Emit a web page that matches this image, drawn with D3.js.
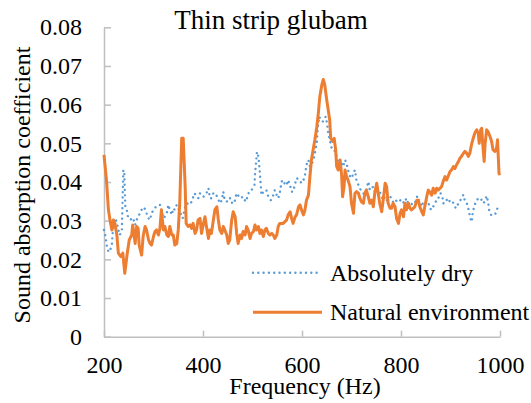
<!DOCTYPE html>
<html><head><meta charset="utf-8">
<script src="https://cdn.jsdelivr.net/npm/d3@7"></script>
<style>body{margin:0;background:#fff} svg text{font-family:'Liberation Serif','Times New Roman',serif}</style>
</head><body><svg id="c" width="531" height="403"></svg>
<script>
const chartTitle = "Thin strip glubam";
const xLabel = "Frequency (Hz)";
const yLabel = "Sound absorption coefficient";
const xTicks = [200, 400, 600, 800, 1000];
const yTicks = [0, 0.01, 0.02, 0.03, 0.04, 0.05, 0.06, 0.07, 0.08];
const seriesNames = ["Absolutely dry", "Natural environment"];

const dryFreq = [200,203,206,209,212,216,218,220,224,227,231,234,236,239,241,243,246,249,252,256,259,263,266,271,276,281,286,290,293,296,300,305,310,313,316,320,326,330,333,337,340,343,347,353,359,363,368,372,377,383,387,391,394,397,401,404,407,411,414,417,421,425,430,434,438,441,444,448,451,456,459,463,468,475,481,486,490,493,498,504,505,507,509,512,514,516,518,522,525,528,532,537,542,545,549,552,555,559,562,566,569,572,576,579,582,589,595,599,603,606,609,613,616,619,623,626,630,632,635,638,642,645,648,651,653,656,660,663,669,671,675,680,683,687,690,693,697,700,704,707,710,714,717,720,724,727,731,734,737,741,744,747,751,754,757,761,764,768,771,774,778,781,785,788,792,795,799,802,806,811,814,818,825,829,833,838,842,845,852,855,858,862,865,870,875,877,880,884,885,889,894,899,904,907,911,916,921,926,929,932,936,938,940,943,945,948,951,956,961,966,969,973,976,978,982,986,990,993,996,998];
const dryVals = [0.0276,0.0259,0.0233,0.0220,0.0220,0.0241,0.0276,0.0302,0.0302,0.0289,0.0263,0.0267,0.0276,0.0431,0.0422,0.0336,0.0328,0.0306,0.0306,0.0302,0.0306,0.0289,0.0302,0.0315,0.0328,0.0335,0.0319,0.0306,0.0302,0.0319,0.0328,0.0336,0.0338,0.0341,0.0328,0.0306,0.0315,0.0341,0.0328,0.0315,0.0332,0.0328,0.0341,0.0324,0.0306,0.0332,0.0345,0.0341,0.0349,0.0371,0.0362,0.0358,0.0371,0.0366,0.0362,0.0366,0.0371,0.0384,0.0358,0.0358,0.0371,0.0371,0.0358,0.0345,0.0353,0.0375,0.0353,0.0349,0.0358,0.0358,0.0345,0.0345,0.0371,0.0358,0.0362,0.0349,0.0362,0.0375,0.0379,0.0392,0.0418,0.0448,0.0478,0.0466,0.0436,0.0405,0.0366,0.0375,0.0375,0.0379,0.0362,0.0353,0.0366,0.0379,0.0366,0.0358,0.0371,0.0401,0.0405,0.0392,0.0392,0.0405,0.0392,0.0375,0.0375,0.0410,0.0405,0.0397,0.0405,0.0418,0.0444,0.0457,0.0440,0.0444,0.0457,0.0474,0.0504,0.0543,0.0569,0.0560,0.0556,0.0565,0.0569,0.0548,0.0526,0.0509,0.0487,0.0487,0.0474,0.0457,0.0453,0.0448,0.0440,0.0457,0.0448,0.0431,0.0414,0.0410,0.0422,0.0431,0.0405,0.0392,0.0384,0.0375,0.0371,0.0362,0.0384,0.0401,0.0379,0.0384,0.0388,0.0375,0.0384,0.0379,0.0375,0.0362,0.0353,0.0362,0.0353,0.0358,0.0362,0.0358,0.0345,0.0349,0.0353,0.0349,0.0353,0.0355,0.0345,0.0358,0.0345,0.0345,0.0341,0.0349,0.0364,0.0345,0.0336,0.0349,0.0353,0.0349,0.0332,0.0328,0.0336,0.0349,0.0353,0.0367,0.0371,0.0358,0.0345,0.0345,0.0358,0.0349,0.0351,0.0340,0.0332,0.0345,0.0355,0.0367,0.0352,0.0349,0.0332,0.0319,0.0306,0.0297,0.0323,0.0336,0.0349,0.0358,0.0358,0.0345,0.0349,0.0364,0.0349,0.0328,0.0315,0.0315,0.0315,0.0328,0.0334,0.0336];

const natFreq = [200,205,209,212,216,219,222,226,229,234,238,242,247,251,256,258,263,266,269,271,276,279,283,286,290,293,296,300,303,306,310,313,316,320,323,327,330,333,337,340,343,347,350,353,357,360,364,366,370,374,377,380,384,387,390,394,397,401,404,407,411,414,417,421,424,428,431,434,438,441,444,448,451,454,458,461,465,468,471,475,478,481,485,488,491,495,498,502,505,508,512,515,518,522,525,528,532,535,539,542,545,549,552,555,559,562,566,569,572,576,579,582,586,589,593,596,599,603,606,609,613,616,619,623,626,630,633,636,640,643,646,650,653,656,658,662,665,668,670,673,677,680,682,685,687,690,693,697,700,704,707,710,714,717,720,724,727,730,734,737,741,744,747,751,754,757,761,764,768,771,774,778,781,784,788,791,795,798,801,805,808,811,815,818,821,825,828,832,835,838,842,845,848,852,855,858,862,865,869,872,875,879,882,885,889,892,895,899,902,906,909,912,916,919,922,926,929,933,936,939,943,946,949,953,956,958,961,963,965,968,970,973,976,980,983,986,990,993,995,998,1000];
const natVals = [0.0470,0.0405,0.0328,0.0302,0.0276,0.0302,0.0293,0.0263,0.0216,0.0207,0.0216,0.0164,0.0216,0.0250,0.0263,0.0289,0.0241,0.0285,0.0280,0.0237,0.0211,0.0259,0.0285,0.0276,0.0250,0.0241,0.0237,0.0259,0.0272,0.0276,0.0263,0.0280,0.0328,0.0276,0.0285,0.0263,0.0259,0.0285,0.0263,0.0263,0.0237,0.0241,0.0276,0.0345,0.0513,0.0513,0.0388,0.0293,0.0285,0.0289,0.0280,0.0293,0.0267,0.0276,0.0302,0.0306,0.0267,0.0293,0.0310,0.0285,0.0254,0.0276,0.0267,0.0302,0.0328,0.0336,0.0302,0.0276,0.0267,0.0285,0.0276,0.0263,0.0241,0.0250,0.0302,0.0323,0.0310,0.0267,0.0241,0.0263,0.0254,0.0272,0.0263,0.0285,0.0276,0.0254,0.0267,0.0272,0.0289,0.0276,0.0285,0.0267,0.0276,0.0259,0.0276,0.0280,0.0267,0.0263,0.0267,0.0263,0.0254,0.0263,0.0285,0.0293,0.0293,0.0293,0.0298,0.0302,0.0315,0.0323,0.0306,0.0293,0.0310,0.0315,0.0336,0.0341,0.0328,0.0315,0.0328,0.0353,0.0366,0.0414,0.0457,0.0487,0.0509,0.0543,0.0578,0.0621,0.0651,0.0665,0.0651,0.0612,0.0586,0.0560,0.0513,0.0505,0.0513,0.0483,0.0440,0.0431,0.0457,0.0418,0.0362,0.0388,0.0431,0.0414,0.0405,0.0388,0.0345,0.0319,0.0371,0.0375,0.0371,0.0358,0.0349,0.0345,0.0371,0.0379,0.0362,0.0345,0.0353,0.0336,0.0371,0.0397,0.0371,0.0345,0.0323,0.0353,0.0397,0.0388,0.0345,0.0332,0.0332,0.0345,0.0336,0.0306,0.0293,0.0319,0.0328,0.0310,0.0345,0.0328,0.0345,0.0332,0.0328,0.0332,0.0336,0.0353,0.0353,0.0336,0.0323,0.0315,0.0336,0.0362,0.0379,0.0375,0.0366,0.0384,0.0371,0.0384,0.0379,0.0384,0.0388,0.0401,0.0414,0.0405,0.0414,0.0427,0.0431,0.0440,0.0435,0.0444,0.0453,0.0461,0.0466,0.0474,0.0479,0.0474,0.0466,0.0474,0.0500,0.0513,0.0526,0.0535,0.0526,0.0500,0.0535,0.0539,0.0500,0.0453,0.0500,0.0535,0.0530,0.0517,0.0505,0.0483,0.0479,0.0487,0.0509,0.0422,0.0418];

const colors = ["#5B9BD5", "#ED7D31"];
const font = "'Liberation Serif','Times New Roman',serif";

const svg = d3.select("#c");
const x = d3.scaleLinear().domain([200, 1000]).range([104, 500]);
const y = d3.scaleLinear().domain([0, 0.08]).range([336.7, 27.3]);

const yAxis = d3.axisLeft(y).tickValues(yTicks).tickSizeInner(-7).tickSizeOuter(0).tickPadding(22)
  .tickFormat(d => d === 0 ? "0" : d3.format(".2f")(d));
const xAxis = d3.axisBottom(x).tickValues(xTicks).tickSizeInner(-6).tickSizeOuter(0).tickPadding(19)
  .tickFormat(d3.format("d"));

function styleAxis(g) {
  g.attr("font-family", font).attr("font-size", 24);
  g.select(".domain").attr("stroke", "#bfbfbf").attr("stroke-width", 1.5);
  g.selectAll(".tick line").attr("stroke", "#bfbfbf").attr("stroke-width", 1.5);
  g.selectAll(".tick text").attr("fill", "#000").attr("font-family", font).attr("font-size", 24);
}
svg.append("g").attr("transform", "translate(104,0)").call(yAxis).call(styleAxis);
svg.append("g").attr("transform", "translate(0,336.7)").call(xAxis).call(styleAxis);

const line = d3.line().x(d => x(d[0])).y(d => y(d[1]));
const dry = dryFreq.map((f, i) => [f, dryVals[i]]);
const nat = natFreq.map((f, i) => [f, natVals[i]]);

svg.append("path").datum(dry).attr("d", line).attr("fill", "none")
  .attr("stroke", colors[0]).attr("stroke-width", 2.4).attr("stroke-linecap", "round")
  .attr("stroke-dasharray", "0.001 5.3");
svg.append("path").datum(nat).attr("d", line).attr("fill", "none")
  .attr("stroke", colors[1]).attr("stroke-width", 3).attr("stroke-linejoin", "round");

function addText(xp, yp, size, txt, anchor, transform) {
  const t = svg.append("text").attr("font-family", font).attr("font-size", size).attr("fill", "#000").text(txt);
  if (transform) t.attr("transform", transform); else t.attr("x", xp).attr("y", yp);
  if (anchor) t.attr("text-anchor", anchor);
  return t;
}
addText(271, 29, 27, chartTitle, "middle");
addText(305, 394, 24, xLabel, "middle");
addText(0, 0, 24, yLabel, "middle", "translate(30,185) rotate(-90)");

// legend
const leg = [
  {name: seriesNames[0], color: colors[0], y: 272.7, x2: 317, dotted: true, ty: 280.5},
  {name: seriesNames[1], color: colors[1], y: 312.3, x2: 322, dotted: false, ty: 320}
];
leg.forEach(l => {
  const ln = svg.append("line").attr("x1", 253).attr("x2", l.x2).attr("y1", l.y).attr("y2", l.y)
    .attr("stroke", l.color);
  if (l.dotted) ln.attr("stroke-width", 2.4).attr("stroke-linecap", "round").attr("stroke-dasharray", "0.001 5.3");
  else ln.attr("stroke-width", 3);
  addText(330, l.ty, 24, l.name, null);
});
</script></body></html>
